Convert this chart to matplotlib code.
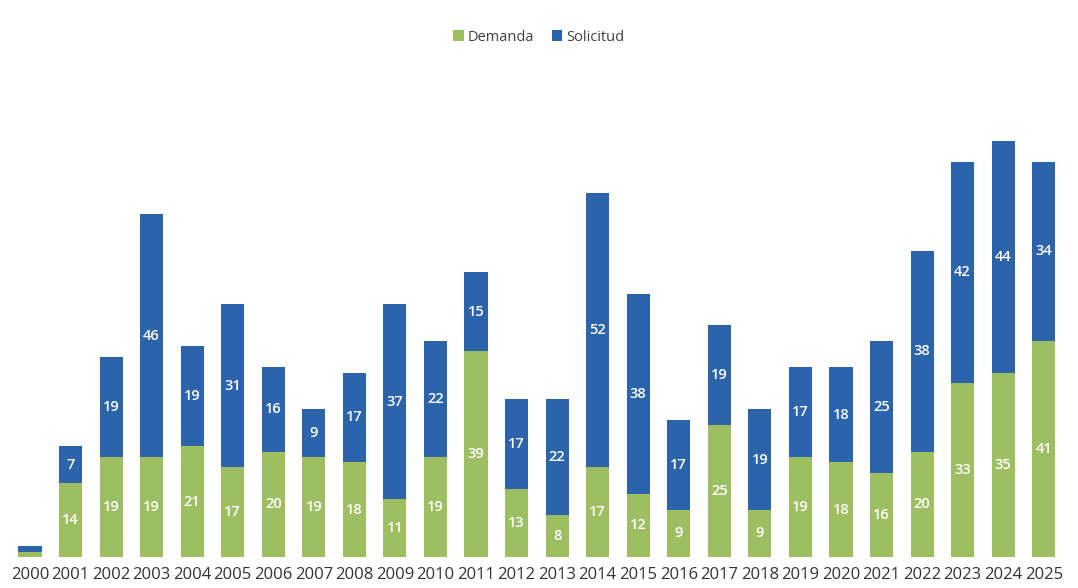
import matplotlib
matplotlib.use("Agg")
import matplotlib.pyplot as plt
import numpy as np

plt.rcParams.update({
    "font.family": ["Open Sans", "DejaVu Sans"],
    "axes.spines.top": False,
    "axes.spines.right": False,
    "axes.spines.left": False,
    "axes.spines.bottom": False,
})

years = [str(y) for y in range(2000, 2026)]
demanda = [1, 14, 19, 19, 21, 17, 20, 19, 18, 11, 19, 39, 13, 8, 17, 12, 9, 25,
           9, 19, 18, 16, 20, 33, 35, 41]
solicitud = [1, 7, 19, 46, 19, 31, 16, 9, 17, 37, 22, 15, 17, 22, 52, 38, 17, 19,
             19, 17, 18, 25, 38, 42, 44, 34]

GREEN = "#9dbf62"
BLUE = "#2b64aa"

fig = plt.figure(figsize=(10.78, 5.88), dpi=100)
ax = fig.add_axes([0.009, 0.0527, 0.978, 0.717])

x = np.arange(len(years))
dem = np.array(demanda)
sol = np.array(solicitud)
width = 0.57

b1 = ax.bar(x, dem, width, color=GREEN, label="Demanda")
b2 = ax.bar(x, sol, width, bottom=dem, color=BLUE, label="Solicitud")

# value labels, skip the tiny 2000 bar
for i in range(len(years)):
    if dem[i] >= 5:
        ax.text(x[i], dem[i] / 2, str(dem[i]), ha="center", va="center",
                color="white", fontsize=10.5, fontweight="semibold")
    if sol[i] >= 5:
        ax.text(x[i], dem[i] + sol[i] / 2, str(sol[i]), ha="center",
                va="center", color="white", fontsize=10.5, fontweight="semibold")

ax.set_xlim(-0.5, len(years) - 0.5)
ax.set_ylim(0, 80)
ax.set_yticks([])
ax.set_xticks(x)
ax.set_xticklabels(years, fontsize=12, color="#333333")
ax.tick_params(axis="x", length=0, pad=7)

leg = fig.legend(handles=[b1, b2], loc="center", bbox_to_anchor=(0.50, 0.937),
                 ncol=2, frameon=False, fontsize=10.5, handlelength=0.7,
                 handleheight=0.7, handletextpad=0.3, columnspacing=1.2,
                 labelcolor="#404040")

fig.savefig("out.png", dpi=100)
